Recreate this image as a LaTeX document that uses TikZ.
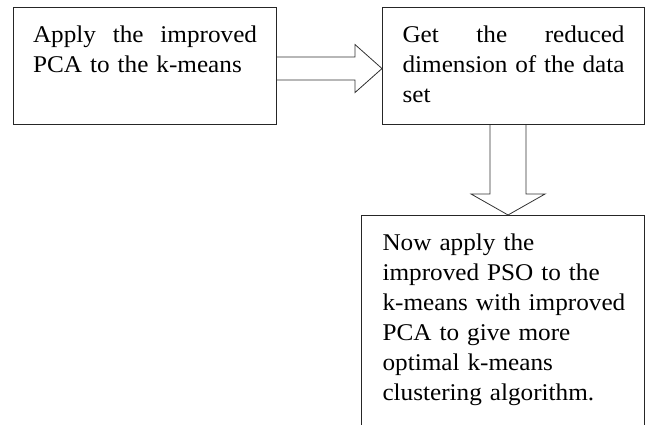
\documentclass[tikz,border=0pt]{standalone}
\usepackage{fontspec}
\setmainfont{Liberation Serif}[FakeStretch=1.05,WordSpace=0.5]
\usetikzlibrary{positioning,calc}
\tikzset{
  stepbox/.style={draw=black!85, line width=1.1pt, inner sep=0pt, anchor=north west,
    align=left, text height=35pt, font=\fontsize{24}{30}\selectfont},
  blockarrow/.style={draw=black!80, line width=0.8pt, line join=miter},
}
\begin{document}
\begin{tikzpicture}[x=1pt,y=-1pt]
  \clip (0,0) rectangle (645,425);
  % Boxes
  \node[stepbox, text width=224pt, minimum width=263pt, text depth=82pt]
    (apply) at (13,7) {Apply\hfill the\hfill improved\\PCA to the k-means};
  \node[stepbox, text width=222pt, minimum width=262pt, text depth=82pt]
    (reduce) at (382,7) {Get\hfill the\hfill reduced\\dimension\hfill of\hfill the\hfill data\\set};
  \node[stepbox, text width=241pt, minimum width=283pt, text depth=240pt]
    (optimal) at (361,215) {Now apply the\\improved PSO to the\\\mbox{k-means with improved}\\PCA to give more\\optimal k-means\\clustering algorithm.};
  % Block arrows
  \path ($(apply.east)+(0,2.5)$) coordinate (s1)
        ($(reduce.west)+(0,2.5)$) coordinate (t1)
        ($(reduce.south)+(-5.5,0)$) coordinate (s2)
        (s2 |- optimal.north) coordinate (t2);
  \draw[blockarrow] ($(s1)+(0,-11.5)$) -- ($(t1)+(-27,-11.5)$) -- ($(t1)+(-27,-24)$) -- (t1)
    -- ($(t1)+(-27,24)$) -- ($(t1)+(-27,11.5)$) -- ($(s1)+(0,11.5)$);
  \draw[blockarrow] ($(s2)+(-18,0)$) -- ($(t2)+(-18,-21)$) -- ($(t2)+(-37,-21)$) -- (t2)
    -- ($(t2)+(37,-21)$) -- ($(t2)+(18,-21)$) -- ($(s2)+(18,0)$);
\end{tikzpicture}
\end{document}
